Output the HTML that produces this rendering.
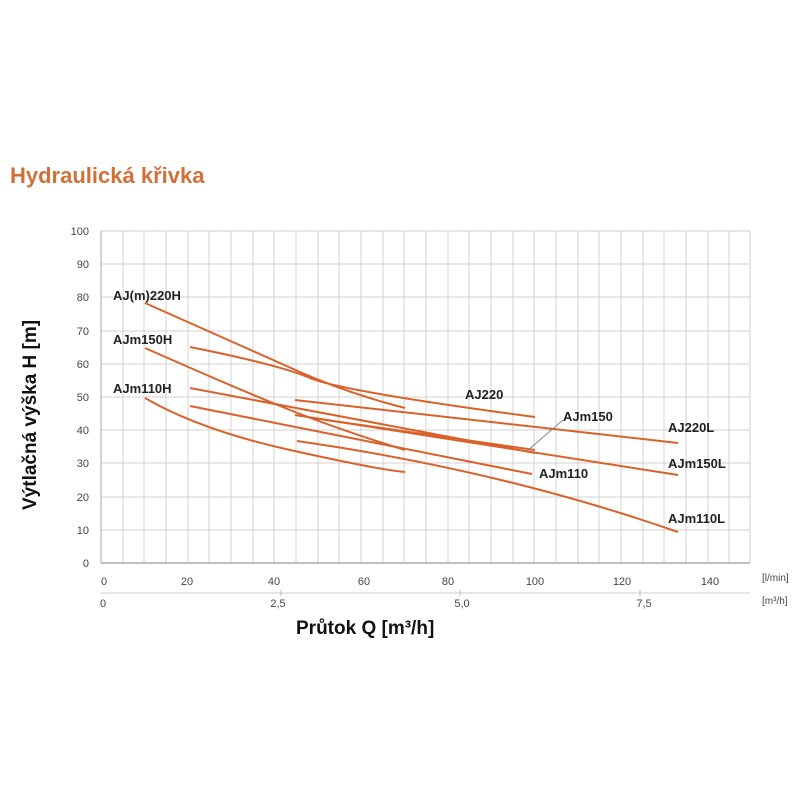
<!DOCTYPE html>
<html><head><meta charset="utf-8"><style>
body{margin:0;background:#fff;}
svg{display:block;font-family:"Liberation Sans",sans-serif;}
</style></head><body>
<svg width="800" height="800" viewBox="0 0 800 800" xmlns="http://www.w3.org/2000/svg">
<rect width="800" height="800" fill="#fff"/>
<text x="10" y="183" font-size="22" font-weight="bold" fill="#d2703a">Hydraulická křivka</text>
<g stroke="#d0d0d0" stroke-width="1">
<line x1="101" y1="231" x2="750" y2="231"/>
<line x1="101" y1="264" x2="750" y2="264"/>
<line x1="101" y1="297" x2="750" y2="297"/>
<line x1="101" y1="331" x2="750" y2="331"/>
<line x1="101" y1="364" x2="750" y2="364"/>
<line x1="101" y1="397" x2="750" y2="397"/>
<line x1="101" y1="430" x2="750" y2="430"/>
<line x1="101" y1="463" x2="750" y2="463"/>
<line x1="101" y1="497" x2="750" y2="497"/>
<line x1="101" y1="530" x2="750" y2="530"/>
</g>
<g stroke="#d0d0d0" stroke-width="1">
<line x1="123" y1="231" x2="123" y2="563"/><line x1="144" y1="231" x2="144" y2="563"/><line x1="166" y1="231" x2="166" y2="563"/><line x1="188" y1="231" x2="188" y2="563"/><line x1="209" y1="231" x2="209" y2="563"/><line x1="231" y1="231" x2="231" y2="563"/><line x1="253" y1="231" x2="253" y2="563"/><line x1="274" y1="231" x2="274" y2="563"/><line x1="296" y1="231" x2="296" y2="563"/><line x1="318" y1="231" x2="318" y2="563"/><line x1="339" y1="231" x2="339" y2="563"/><line x1="361" y1="231" x2="361" y2="563"/><line x1="383" y1="231" x2="383" y2="563"/><line x1="404" y1="231" x2="404" y2="563"/><line x1="426" y1="231" x2="426" y2="563"/><line x1="448" y1="231" x2="448" y2="563"/><line x1="469" y1="231" x2="469" y2="563"/><line x1="491" y1="231" x2="491" y2="563"/><line x1="513" y1="231" x2="513" y2="563"/><line x1="534" y1="231" x2="534" y2="563"/><line x1="556" y1="231" x2="556" y2="563"/><line x1="578" y1="231" x2="578" y2="563"/><line x1="599" y1="231" x2="599" y2="563"/><line x1="621" y1="231" x2="621" y2="563"/><line x1="643" y1="231" x2="643" y2="563"/><line x1="664" y1="231" x2="664" y2="563"/><line x1="686" y1="231" x2="686" y2="563"/><line x1="708" y1="231" x2="708" y2="563"/><line x1="729" y1="231" x2="729" y2="563"/><line x1="750" y1="231" x2="750" y2="563"/>
</g>
<line x1="101" y1="231" x2="101" y2="563" stroke="#aaa"/>
<line x1="101" y1="563" x2="750" y2="563" stroke="#aaa" stroke-width="1.5"/>
<line x1="101" y1="593" x2="750" y2="593" stroke="#ccc"/>
<g stroke="#bbb"><line x1="281" y1="590" x2="281" y2="596"/><line x1="460" y1="590" x2="460" y2="596"/><line x1="640" y1="590" x2="640" y2="596"/></g>
<g font-size="11" fill="#444" text-anchor="end">
<text x="89" y="235">100</text><text x="89" y="268">90</text><text x="89" y="301">80</text><text x="89" y="335">70</text><text x="89" y="368">60</text><text x="89" y="401">50</text><text x="89" y="434">40</text><text x="89" y="467">30</text><text x="89" y="501">20</text><text x="89" y="534">10</text><text x="89" y="567">0</text>
</g>
<g font-size="11" fill="#444" text-anchor="middle">
<text x="104" y="585">0</text><text x="187" y="585">20</text><text x="274" y="585">40</text><text x="364" y="585">60</text><text x="448" y="585">80</text><text x="535" y="585">100</text><text x="622" y="585">120</text><text x="710" y="585">140</text>
<text x="103" y="607">0</text><text x="278" y="607">2,5</text><text x="462" y="607">5,0</text><text x="644" y="607">7,5</text>
</g>
<text x="762" y="581" font-size="10" fill="#444">[l/min]</text>
<text x="762" y="604" font-size="10" fill="#444">[m³/h]</text>
<text x="296" y="634" font-size="19" font-weight="bold" fill="#111">Průtok Q [m³/h]</text>
<text transform="translate(36,510) rotate(-90)" font-size="19" font-weight="bold" fill="#111">Výtlačná výška H [m]</text>
<g fill="none" stroke="#d9612a" stroke-width="2">
<path d="M145,303 Q250,350 300,372 T405,408"/>
<path d="M190,347 Q280,365 310,378 T535,417"/>
<path d="M295,400 L678,443"/>
<path d="M145,348 Q240,390 290,410 T405,450"/>
<path d="M190,388 L535,453"/>
<path d="M312,418 L535,450"/>
<path d="M295,415 L678,475"/>
<path d="M190,406 L532,474"/>
<path d="M145,398 Q200,430 290,450 T405,472"/>
<path d="M297,441 Q500,470 678,532"/>
</g>
<line x1="527" y1="451" x2="563" y2="420" stroke="#888" stroke-width="1"/>
<g font-size="13" font-weight="bold" fill="#222">
<text x="113" y="300">AJ(m)220H</text>
<text x="113" y="344">AJm150H</text>
<text x="113" y="393">AJm110H</text>
<text x="465" y="399">AJ220</text>
<text x="563" y="421">AJm150</text>
<text x="668" y="432">AJ220L</text>
<text x="668" y="468">AJm150L</text>
<text x="539" y="478">AJm110</text>
<text x="668" y="523">AJm110L</text>
</g>
</svg>
</body></html>
